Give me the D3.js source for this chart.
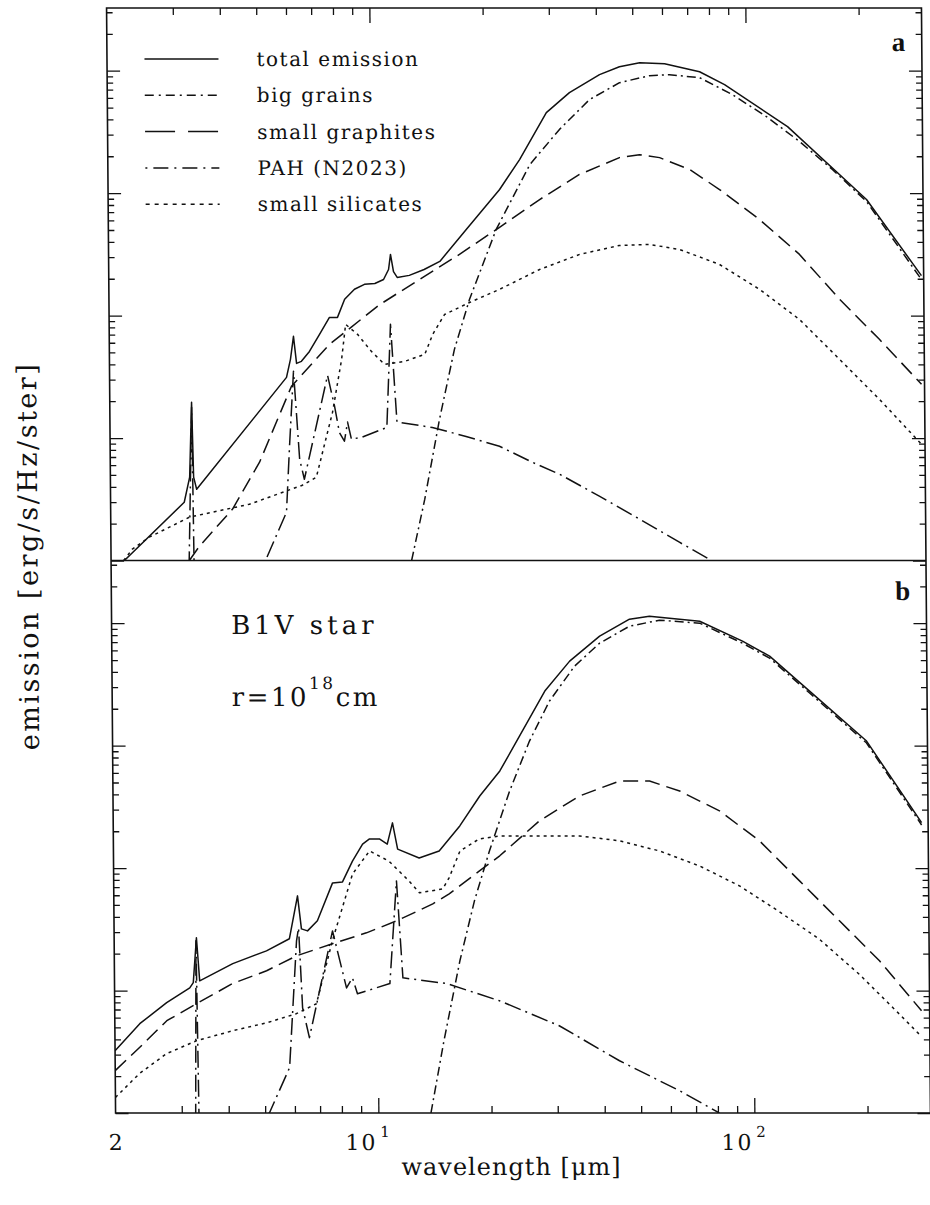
<!DOCTYPE html>
<html>
<head>
<meta charset="utf-8">
<script src="https://cdn.jsdelivr.net/npm/d3@7"></script>
<style>
  html, body { margin: 0; padding: 0; background: #fff; }
  svg { display: block; }
  text { font-family: "DejaVu Serif", serif; fill: #111; }
</style>
</head>
<body>
<svg id="chart" width="930" height="1205"></svg>
<script>
// Emission spectra of dust components, wavelength in µm, emission per unit (log scale).
// Panel a
const totalA = [[2.17,1.0e-4],[3.14,2.99e-4],[3.25,4.79e-4],[3.30,1.96e-3],[3.33,4.79e-4],[3.39,3.82e-4],
  [5.91,3.13e-3],[6.06,4.39e-3],[6.18,6.77e-3],[6.29,4.07e-3],[6.48,4.23e-3],[6.81,5.10e-3],[7.25,7.03e-3],
  [7.71,9.67e-3],[8.10,9.67e-3],[8.47,1.36e-2],[9.00,1.64e-2],[9.57,1.80e-2],[10.2,1.83e-2],[10.76,1.97e-2],
  [11.1,2.38e-2],[11.24,3.16e-2],[11.44,2.29e-2],[11.7,2.05e-2],[12.6,2.13e-2],[13.8,2.38e-2],[15.2,2.77e-2],
  [17.9,5.05e-2],[22.0,0.107],[24.9,0.188],[29.4,0.454],[33.9,0.662],[40.8,0.928],[46.1,1.078],[52.2,1.162],
  [60.8,1.14],[75.3,0.98],[87.7,0.769],[128.7,0.349],[208,0.0887],[290,0.0212]];
const bigGrainsA = [[12.6,1.0e-4],[13.7,3.17e-4],[15.05,1.42e-3],[16.55,5.30e-3],[18.2,1.36e-2],[21.5,5.05e-2],
  [26.5,0.171],[31.8,0.330],[38.3,0.580],[46.1,0.798],[55.4,0.91],[62.6,0.928],[75.3,0.877],[92.0,0.637],
  [113.2,0.421],[138.4,0.264],[169,0.156],[208,0.0854],[290,0.0197]];
const graphitesA = [[3.23,1.0e-4],[3.44,1.31e-4],[4.22,2.63e-4],[4.99,6.35e-4],[6.09,2.65e-3],[7.70,5.82e-3],
  [10.5,1.23e-2],[13.4,1.97e-2],[17.15,3.16e-2],[21.9,5.24e-2],[28.1,8.87e-2],[35.9,0.142],[45.9,0.195],
  [51.9,0.206],[58.7,0.195],[70.5,0.156],[84.6,0.107],[107.9,6.09e-2],[137.6,3.16e-2],[175.4,1.36e-2],
  [223.5,6.40e-3],[288.6,2.75e-3]];
const pahA = [[3.21,5e-5],[3.30,1.78e-3],[3.33,5e-5],[5.15,1.0e-4],[5.87,2.48e-4],[6.0,8.57e-4],[6.17,3.51e-3],
  [6.38,6.72e-4],[6.56,4.61e-4],[7.60,3.25e-3],[7.92,1.82e-3],[8.15,1.11e-3],[8.40,9.42e-4],[8.57,1.35e-3],
  [8.77,9.78e-4],[9.38,1.02e-3],[10.9,1.22e-3],[11.2,8.48e-3],[11.6,1.35e-3],[14.4,1.22e-3],[17.7,1.03e-3],
  [21.7,8.57e-4],[26.5,6.35e-4],[31.3,5.07e-4],[39.9,3.35e-4],[51.0,2.18e-4],[65.0,1.41e-4],[79.1,1.0e-4]];
const silicatesA = [[2.16,1.0e-4],[2.28,1.24e-4],[2.53,1.55e-4],[3.24,2.26e-4],[4.68,2.88e-4],[6.48,4.12e-4],
  [7.06,4.79e-4],[7.82,1.62e-3],[8.29,4.39e-3],[8.51,8.48e-3],[9.15,7.03e-3],[9.95,5.10e-3],[10.78,4.0e-3],
  [12.2,4.23e-3],[13.8,4.83e-3],[14.5,7.03e-3],[15.6,1.02e-2],[18.2,1.28e-2],[21.9,1.64e-2],[28.0,2.38e-2],
  [35.8,3.16e-2],[45.7,3.74e-2],[54.9,3.81e-2],[66.0,3.47e-2],[84.2,2.62e-2],[107.5,1.64e-2],[137.1,9.31e-3],
  [175,4.39e-3],[222.9,2.07e-3],[287.8,8.9e-4]];

// Panel b
const totalB = [[2.0,3.23e-4],[2.33,5.36e-4],[2.75,7.96e-4],[3.17,1.05e-3],[3.24,1.16e-3],[3.31,2.70e-3],
  [3.37,1.20e-3],[4.13,1.66e-3],[5.08,2.11e-3],[5.85,2.65e-3],[6.16,5.93e-3],[6.30,3.19e-3],[6.54,3.07e-3],
  [6.95,3.71e-3],[7.64,7.57e-3],[8.12,7.71e-3],[8.64,1.14e-2],[9.20,1.57e-2],[9.60,1.73e-2],[10.2,1.73e-2],
  [10.7,1.57e-2],[11.06,2.34e-2],[11.4,1.43e-2],[13.0,1.21e-2],[14.7,1.38e-2],[16.7,2.21e-2],[18.9,3.88e-2],
  [21.4,6.21e-2],[24.2,0.120],[28.3,0.279],[33.0,0.490],[39.7,0.783],[47.7,1.078],[53.9,1.14],[64.8,1.078],
  [73.3,1.038],[95.2,0.713],[112.3,0.538],[143.2,0.279],[202.5,0.109],[282.5,2.35e-2]];
const bigGrainsB = [[13.8,1.0e-4],[15.0,3.90e-4],[16.6,1.75e-3],[18.2,5.40e-3],[20.0,1.38e-2],[22.7,4.26e-2],
  [25.7,0.109],[29.1,0.231],[34.0,0.446],[39.7,0.687],[47.7,0.945],[57.3,1.058],[73.3,1.0],[95.2,0.687],
  [112.3,0.518],[143.2,0.269],[202.5,0.105],[282.5,2.25e-2]];
const graphitesB = [[2.0,2.22e-4],[2.32,3.41e-4],[2.75,5.67e-4],[3.30,7.80e-4],[4.12,1.14e-3],[5.08,1.45e-3],
  [6.10,1.92e-3],[7.61,2.41e-3],[9.38,2.96e-3],[11.3,3.71e-3],[14.1,5.10e-3],[15.6,6.16e-3],[18.8,9.48e-3],
  [21.3,1.26e-2],[27.2,2.43e-2],[34.8,3.88e-2],[44.5,5.14e-2],[53.5,5.14e-2],[64.3,4.26e-2],[82.0,2.93e-2],
  [104.6,1.67e-2],[133.4,7.86e-3],[170,3.71e-3],[216.8,1.75e-3],[279.8,6.84e-4]];
const pahB = [[3.26,5e-5],[3.30,2.55e-3],[3.34,5e-5],[5.13,1.0e-4],[5.82,2.35e-4],[6.11,2.55e-3],[6.19,3.25e-3],
  [6.32,7.24e-4],[6.58,4.12e-4],[7.62,3.07e-3],[8.28,1.05e-3],[8.59,1.27e-3],[8.85,9.42e-4],[10.8,1.14e-3],
  [11.3,7.86e-3],[11.7,1.27e-3],[15.3,1.14e-3],[21.1,8.26e-4],[30.4,5.16e-4],[43.9,2.67e-4],[63.3,1.52e-4],
  [80.7,1.0e-4]];
const silicatesB = [[2.0,1.34e-4],[2.32,2.10e-4],[2.74,3.05e-4],[3.30,3.90e-4],[4.12,4.70e-4],[5.08,5.46e-4],
  [6.08,6.47e-4],[6.88,7.80e-4],[7.61,2.55e-3],[8.64,8.97e-3],[9.60,1.38e-2],[10.8,1.14e-2],[12.2,7.86e-3],
  [13.0,6.28e-3],[15.0,6.77e-3],[15.6,8.32e-3],[16.7,1.38e-2],[18.8,1.73e-2],[21.3,1.83e-2],[27.2,1.83e-2],
  [34.8,1.83e-2],[44.4,1.67e-2],[56.7,1.38e-2],[72.4,1.04e-2],[92.3,7.16e-3],[117.8,4.40e-3],[150.3,2.62e-3],
  [191.8,1.35e-3],[244.5,6.4e-4],[279.7,4.2e-4]];

// Axis ticks and labels
const xMajorTicks = [10, 100];
const xMinorTicks = [3, 4, 5, 6, 7, 8, 9, 20, 30, 40, 50, 60, 70, 80, 90, 200];
const xTickLabels = [{v: 2, base: "2", exp: ""}, {v: 10, base: "10", exp: "1"}, {v: 100, base: "10", exp: "2"}];
const yMajorTicks = [1e-4, 1e-3, 1e-2, 1e-1, 1];
const yMinorTicks = [];
[1e-4, 1e-3, 1e-2, 1e-1].forEach(d => { for (let m = 2; m <= 9; m++) yMinorTicks.push(m * d); });
yMinorTicks.push(2, 3);

const legendItems = ["total emission", "big grains", "small graphites", "PAH (N2023)", "small silicates"];

// Line styles per component: curve dash, legend dash
const styles = [
  {dash: null, legendDash: null},
  {dash: "9,4,2,4", legendDash: "9,5,2,5"},
  {dash: "15,7", legendDash: "30,13"},
  {dash: "17,5,2,5", legendDash: "2,6,15,6"},
  {dash: "3,4", legendDash: "4,5"}
];

const svg = d3.select("#chart");
const ink = "#111";

// The whole frame leans slightly to the right
const lean = Math.atan(0.00815) * 180 / Math.PI;
const g = svg.append("g").attr("transform", `skewX(${lean})`);

const frameLeft = 106.5, frameRight = 921.4, frameTop = 8, frameMid = 560.5, frameBottom = 1113;
const x = d3.scaleLog().domain([2, 294]).range([frameLeft, frameRight]);
const yMax = 3.25;
const yA = d3.scaleLog().domain([1e-4, yMax]).range([frameMid, frameTop]);
const yB = d3.scaleLog().domain([1e-4, yMax]).range([frameBottom, frameMid]);

const panels = [
  {id: "a", y: yA, y0: frameTop, y1: frameMid, series: [totalA, bigGrainsA, graphitesA, pahA, silicatesA]},
  {id: "b", y: yB, y0: frameMid, y1: frameBottom, series: [totalB, bigGrainsB, graphitesB, pahB, silicatesB]}
];

const defs = svg.append("defs");

panels.forEach(p => {
  defs.append("clipPath").attr("id", "clip-" + p.id)
    .append("rect").attr("x", frameLeft).attr("y", p.y0)
    .attr("width", frameRight - frameLeft).attr("height", p.y1 - p.y0);

  // Left and right ticks
  [[yMinorTicks, 6], [yMajorTicks, 13]].forEach(([vals, len]) => {
    g.append("g").attr("transform", `translate(${frameLeft},0)`)
      .call(d3.axisLeft(p.y).tickValues(vals).tickSize(-len).tickSizeOuter(0).tickFormat(""))
      .call(s => s.select(".domain").remove())
      .call(s => s.selectAll("line").attr("stroke", ink).attr("stroke-width", 1.3));
    g.append("g").attr("transform", `translate(${frameRight},0)`)
      .call(d3.axisRight(p.y).tickValues(vals).tickSize(-len).tickSizeOuter(0).tickFormat(""))
      .call(s => s.select(".domain").remove())
      .call(s => s.selectAll("line").attr("stroke", ink).attr("stroke-width", 1.3));
  });

  const line = d3.line().x(d => x(d[0])).y(d => p.y(d[1]));
  const cg = g.append("g").attr("clip-path", `url(#clip-${p.id})`);
  p.series.forEach((s, i) => {
    cg.append("path").datum(s)
      .attr("d", line)
      .attr("fill", "none")
      .attr("stroke", ink)
      .attr("stroke-width", 1.5)
      .attr("stroke-linejoin", "round")
      .attr("stroke-dasharray", styles[i].dash);
  });

  g.append("text").attr("x", 898).attr("y", p.id === "a" ? 51 : 600)
    .attr("text-anchor", "middle")
    .style("font-family", "'Liberation Serif', serif")
    .style("font-weight", "bold").style("font-size", "27px")
    .text(p.id);
});

// Top and bottom ticks
[[xMinorTicks, 7], [xMajorTicks, 15]].forEach(([vals, len]) => {
  g.append("g").attr("transform", `translate(0,${frameBottom})`)
    .call(d3.axisBottom(x).tickValues(vals).tickSize(-len).tickSizeOuter(0).tickFormat(""))
    .call(s => s.select(".domain").remove())
    .call(s => s.selectAll("line").attr("stroke", ink).attr("stroke-width", 1.3));
  g.append("g").attr("transform", `translate(0,${frameTop})`)
    .call(d3.axisTop(x).tickValues(vals).tickSize(-len).tickSizeOuter(0).tickFormat(""))
    .call(s => s.select(".domain").remove())
    .call(s => s.selectAll("line").attr("stroke", ink).attr("stroke-width", 1.3));
});

// Frame and panel divider
g.append("rect").attr("x", frameLeft).attr("y", frameTop)
  .attr("width", frameRight - frameLeft).attr("height", frameBottom - frameTop)
  .attr("fill", "none").attr("stroke", ink).attr("stroke-width", 1.6);
g.append("line").attr("x1", frameLeft).attr("x2", frameRight).attr("y1", frameMid).attr("y2", frameMid)
  .attr("stroke", ink).attr("stroke-width", 1.6);

// Legend
legendItems.forEach((name, i) => {
  const ly = 59 + i * 36.3;
  g.append("line").attr("x1", 144).attr("x2", 218).attr("y1", ly).attr("y2", ly)
    .attr("stroke", ink).attr("stroke-width", 1.5)
    .attr("stroke-dasharray", styles[i].legendDash);
  g.append("text").attr("x", 256).attr("y", ly + 7)
    .style("font-size", "20px").style("letter-spacing", "1.5px")
    .text(name);
});

// Annotation in panel b
g.append("text").attr("x", 226).attr("y", 634)
  .style("font-size", "26px").style("letter-spacing", "4px")
  .text("B1V star");
const rt = g.append("text").attr("x", 226).attr("y", 706)
  .style("font-size", "26px").style("letter-spacing", "2.5px");
rt.append("tspan").text("r=10");
rt.append("tspan").attr("dy", -17).style("font-size", "17px").text("18");
rt.append("tspan").attr("dy", 17).text("cm");

// X tick labels
xTickLabels.forEach(t => {
  const tx = g.append("text").attr("y", 1150).style("font-size", "22px");
  if (t.exp === "") {
    tx.attr("x", x(t.v)).attr("text-anchor", "middle").text(t.base);
  } else {
    tx.attr("x", x(t.v) - 11).attr("text-anchor", "middle");
    tx.append("tspan").style("letter-spacing", "2px").text(t.base);
    tx.append("tspan").attr("dy", -13).attr("dx", 3).style("font-size", "15px").text(t.exp);
  }
});

// Axis titles
g.append("text").attr("x", 502).attr("y", 1175).attr("text-anchor", "middle")
  .style("font-size", "24px").style("letter-spacing", "1px")
  .text("wavelength [μm]");
g.append("text").attr("transform", "translate(33,556) rotate(-90)").attr("text-anchor", "middle")
  .style("font-size", "27px").style("letter-spacing", "2.5px")
  .text("emission [erg/s/Hz/ster]");
</script>
</body>
</html>
